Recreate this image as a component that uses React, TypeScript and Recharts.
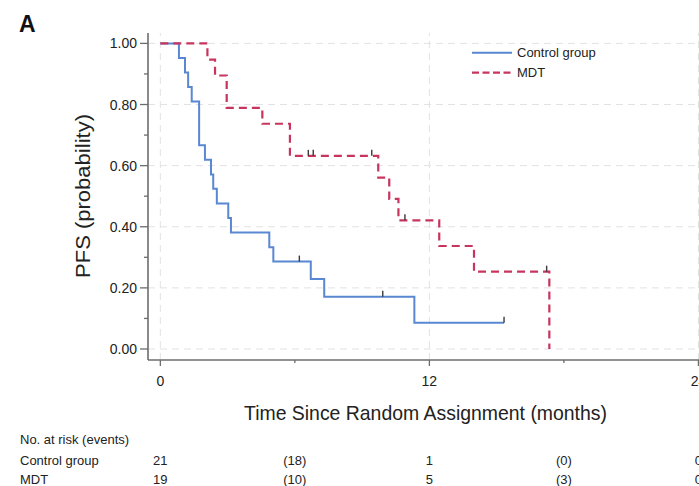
import { ComposedChart, Line, Scatter, XAxis, YAxis, ReferenceLine, Legend } from 'recharts'

// Kaplan-Meier steps: event time (months) and PFS estimate from that time on
const CONTROL_TIMES = [0, 0.83, 1.1, 1.24, 1.4, 1.73, 1.99, 2.26, 2.36, 2.52, 3.03, 3.15, 4.86, 5.04, 6.71, 7.31, 11.33, 15.33]
const CONTROL_PFS = [1, 0.952, 0.905, 0.857, 0.81, 0.667, 0.619, 0.571, 0.524, 0.476, 0.429, 0.381, 0.333, 0.286, 0.229, 0.171, 0.086, 0.086]
const MDT_TIMES = [0, 2.1, 2.44, 2.96, 4.55, 5.78, 9.72, 10.21, 10.62, 12.44, 13.99, 17.35]
const MDT_PFS = [1, 0.947, 0.895, 0.789, 0.737, 0.632, 0.561, 0.491, 0.421, 0.337, 0.253, 0]

// censored patients (tick marks)
const CONTROL_CENSOR_T = [6.2, 9.92, 15.33]
const CONTROL_CENSOR_P = [0.286, 0.171, 0.086]
const MDT_CENSOR_T = [6.6, 6.82, 9.43, 10.91, 17.23]
const MDT_CENSOR_P = [0.632, 0.632, 0.632, 0.421, 0.253]

// number at risk table
const RISK_MONTHS = [0, 6, 12, 18, 24]
const CONTROL_RISK = ['21', '(18)', '1', '(0)', '0']
const MDT_RISK = ['19', '(10)', '5', '(3)', '0']

const Y_TICKS = [0, 0.1, 0.2, 0.3, 0.4, 0.5, 0.6, 0.7, 0.8, 0.9, 1]
const Y_GRID = [0, 0.2, 0.4, 0.6, 0.8, 1]
const X_TICKS = [0, 6, 12, 18, 24]
const X_GRID = [0, 12, 24]

const X_DOMAIN: [number, number] = [-0.55, 26.3]
const Y_DOMAIN: [number, number] = [-0.036, 1.034]

const BLUE = '#5a87d2'
const RED = '#c7345e'
const AXIS = '#6c6c6c'
const FONT = '"Liberation Sans", Arial, sans-serif'

const CHART_W = 760
const CHART_H = 486
const MARGIN = { top: 33, right: 10, bottom: 96, left: 88 }
const PLOT_LEFT = MARGIN.left + 60
const PLOT_W = CHART_W - PLOT_LEFT - MARGIN.right

const toPoints = (ts: number[], ps: number[]) => ts.map((t, i) => ({ t, p: ps[i] }))
const controlSteps = toPoints(CONTROL_TIMES, CONTROL_PFS)
const mdtSteps = toPoints(MDT_TIMES, MDT_PFS)
const controlCensor = toPoints(CONTROL_CENSOR_T, CONTROL_CENSOR_P)
const mdtCensor = toPoints(MDT_CENSOR_T, MDT_CENSOR_P)

// pixel x of a month, same mapping as the x axis
const monthX = (m: number) => PLOT_LEFT + ((m - X_DOMAIN[0]) / (X_DOMAIN[1] - X_DOMAIN[0])) * PLOT_W

function YTick({ x, y, payload }: any) {
  const major = Math.round(payload.value * 10) % 2 === 0
  return (
    <g>
      <line x1={x - (major ? 8 : 4)} x2={x} y1={y} y2={y} stroke={AXIS} strokeWidth={1.3} />
      {major && (
        <text x={x - 11} y={y} dy={5} textAnchor="end" fontSize={14} fill="#222" fontFamily={FONT}>
          {payload.value.toFixed(2)}
        </text>
      )}
    </g>
  )
}

function XTick({ x, y, payload }: any) {
  const major = payload.value % 12 === 0
  return (
    <g>
      <line x1={x} x2={x} y1={y} y2={y + (major ? 6 : 3)} stroke={AXIS} strokeWidth={1.3} />
      {major && (
        <text x={x} y={y + 26} textAnchor="middle" fontSize={14} fill="#222" fontFamily={FONT}>
          {payload.value}
        </text>
      )}
    </g>
  )
}

const CensorMark = (props: any) => (
  <line x1={props.cx} x2={props.cx} y1={props.cy - 6} y2={props.cy} stroke="#3a3a3a" strokeWidth={1.4} />
)

function KmLegend() {
  return (
    <svg width={150} height={40} style={{ fontFamily: FONT }}>
      <line x1={2} x2={42} y1={8.7} y2={8.7} stroke={BLUE} strokeWidth={2} />
      <text x={47} y={13.3} fontSize={13} fill="#222">Control group</text>
      <line x1={2} x2={42} y1={28.7} y2={28.7} stroke={RED} strokeWidth={2.2} strokeDasharray="7 3.5" />
      <text x={47} y={33.3} fontSize={13} fill="#222">MDT</text>
    </svg>
  )
}

export default function App() {
  return (
    <div style={{ position: 'absolute', left: 0, top: 0, width: 699, height: 486, overflow: 'hidden', background: '#fff' }}>
      <ComposedChart width={CHART_W} height={CHART_H} margin={MARGIN}>
        <XAxis
          dataKey="t"
          type="number"
          domain={X_DOMAIN}
          ticks={X_TICKS}
          tick={<XTick />}
          tickSize={0}
          tickMargin={0}
          tickLine={false}
          axisLine={{ stroke: AXIS, strokeWidth: 1.6 }}
          height={30}
        />
        <YAxis
          dataKey="p"
          type="number"
          domain={Y_DOMAIN}
          ticks={Y_TICKS}
          tick={<YTick />}
          tickSize={0}
          tickMargin={0}
          tickLine={false}
          axisLine={{ stroke: AXIS, strokeWidth: 1.6 }}
          width={60}
        />
        {Y_GRID.map((v) => (
          <ReferenceLine key={`gy${v}`} y={v} stroke="#e2e2e6" strokeDasharray="7 5" />
        ))}
        {X_GRID.map((v) => (
          <ReferenceLine key={`gx${v}`} x={v} stroke="#e2e2e6" strokeDasharray="7 5" />
        ))}
        <Legend
          layout="vertical"
          align="center"
          verticalAlign="middle"
          wrapperStyle={{ left: 470, top: 44, width: 150, height: 40 }}
          content={<KmLegend />}
        />
        <Line
          data={controlSteps}
          dataKey="p"
          type="stepAfter"
          stroke={BLUE}
          strokeWidth={2}
          dot={false}
          activeDot={false}
          isAnimationActive={false}
        />
        <Line
          data={mdtSteps}
          dataKey="p"
          type="stepAfter"
          stroke={RED}
          strokeWidth={2.2}
          strokeDasharray="8 5"
          dot={false}
          activeDot={false}
          isAnimationActive={false}
        />
        <Scatter data={controlCensor} dataKey="p" shape={CensorMark} isAnimationActive={false} />
        <Scatter data={mdtCensor} dataKey="p" shape={CensorMark} isAnimationActive={false} />
      </ComposedChart>

      <svg
        width={699}
        height={486}
        style={{ position: 'absolute', left: 0, top: 0, pointerEvents: 'none', fontFamily: FONT }}
      >
        <text x={19} y={32} fontSize={23} fontWeight="bold" fill="#111">A</text>
        <text transform="translate(90,196) rotate(-90)" textAnchor="middle" fontSize={21} fill="#222" textLength={164} lengthAdjust="spacingAndGlyphs">
          PFS (probability)
        </text>
        <text x={425.5} y={420} textAnchor="middle" fontSize={21} fill="#222" textLength={363} lengthAdjust="spacingAndGlyphs">
          Time Since Random Assignment (months)
        </text>
        <text x={20} y={444} fontSize={13} fill="#222">No. at risk (events)</text>
        <text x={20} y={465} fontSize={13} fill="#222">Control group</text>
        <text x={20} y={484} fontSize={13} fill="#222">MDT</text>
        {RISK_MONTHS.map((m, i) => (
          <g key={m}>
            <text x={monthX(m)} y={465} textAnchor="middle" fontSize={13} fill="#222">{CONTROL_RISK[i]}</text>
            <text x={monthX(m)} y={484} textAnchor="middle" fontSize={13} fill="#222">{MDT_RISK[i]}</text>
          </g>
        ))}
      </svg>
    </div>
  )
}
